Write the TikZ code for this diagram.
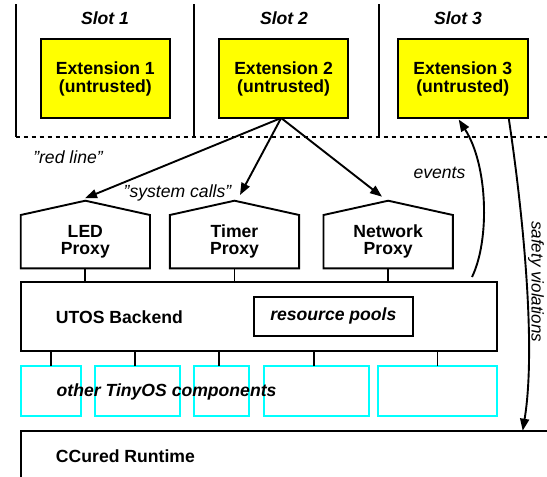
\documentclass[tikz,border=0pt]{standalone}
\usepackage{fontspec}
\setmainfont{Liberation Sans}
\usetikzlibrary{arrows.meta}
\definecolor{extyellow}{RGB}{255,255,0}
\definecolor{compcyan}{RGB}{0,255,255}
\begin{document}
\begin{tikzpicture}[x=1pt,y=-1pt,
  line width=1.9pt,
  every node/.style={inner sep=0pt, outer sep=0pt},
  bf/.style={font=\fontsize{17.6}{18}\selectfont\bfseries},
  bi/.style={font=\fontsize{17.6}{18}\selectfont\bfseries\itshape},
  it/.style={font=\fontsize{17.6}{18}\selectfont\itshape},
  extbox/.style={draw, fill=extyellow, minimum width=129.5pt, minimum height=79pt, align=center, bf},
  proxybody/.style={minimum width=129.3pt, minimum height=53.3pt, align=center, bf,
     font=\fontsize{17.6}{17}\selectfont\bfseries},
  compbox/.style={draw=compcyan, minimum height=49.7pt},
  arr/.style={-{Triangle[length=12pt,width=9pt]}},
  redline/.style={dash pattern=on 4pt off 4pt}
]
\clip (0,0) rectangle (547,477);

% slots
\coordinate (s1t) at (15.7,4);   \coordinate (s1b) at (15.7,137);
\coordinate (s2t) at (194.3,4);  \coordinate (s2b) at (194.3,137);
\coordinate (s3t) at (378.7,4);  \coordinate (s3b) at (378.7,137);
\coordinate (rlend) at (547,137);
\draw (s1t) -- (s1b);
\draw (s2t) -- (s2b);
\draw (s3t) -- (s3b);
\draw[redline] (s1b) -- (rlend);

\node[bi] (slot1) at (105,18) {Slot 1};
\node[bi] (slot2) at (284,18) {Slot 2};
\node[bi] (slot3) at (458,18) {Slot 3};

\node[extbox] (ext1) at (105.35,78.5) {Extension 1\\(untrusted)};
\node[extbox] (ext2) at (283.65,78.5) {Extension 2\\(untrusted)};
\node[extbox, minimum width=130pt] (ext3) at (462.7,78.5) {Extension 3\\(untrusted)};

\node[it] (redlbl) at (68,157.5) {"red line"};
\node[it] (syslbl) at (177.5,192.7) {"system calls"};
\node[it] (evlbl) at (439.5,172.5) {events};
\node[it, rotate=-90, anchor=base, font=\fontsize{17}{18}\selectfont\itshape] (safelbl) at (531.5,281.7) {safety violations};

% proxies
\node[proxybody] (led) at (85.35,241.65) {LED\\Proxy};
\node[proxybody] (timer) at (234.5,241.65) {Timer\\Proxy};
\node[proxybody] (net) at (388.15,241.65) {Network\\Proxy};
\foreach \p in {led,timer,net}{
  \coordinate (\p apex) at ([yshift=14.3pt]\p.north);
  \draw (\p.south west) -- (\p.north west) -- (\p apex) -- (\p.north east) -- (\p.south east) -- cycle;
}

% system call arrows
\coordinate (callsrc) at ([xshift=-2.5pt]ext2.south);
\coordinate (ledin) at (85,198.3);
\coordinate (timerin) at (240,195);
\coordinate (netin) at (382,196.7);
\draw[arr] (callsrc) -- (ledin);
\draw[arr] (callsrc) -- (timerin);
\draw[arr] (callsrc) -- (netin);

% backend
\node[draw, minimum width=476pt, minimum height=69.3pt] (backend) at (259,316.35) {};
\node[bf, anchor=base west] (utoslbl) at (56,323.6) {UTOS Backend};
\node[draw, bi, minimum width=158.7pt, minimum height=39pt] (pools) at (333.35,316.2) {resource pools};
\foreach \p in {led,timer,net}{
  \draw (\p.south) -- (\p.south |- backend.north);
}

% other components
\node[compbox, minimum width=60.3pt] (c1) at (50.85,390.85) {};
\node[compbox, minimum width=84.7pt] (c2) at (137.65,390.85) {};
\node[compbox, minimum width=54.7pt] (c3) at (221.65,390.85) {};
\node[compbox, minimum width=104.7pt] (c4) at (316.35,390.85) {};
\node[compbox, minimum width=119pt] (c5) at (437.5,390.85) {};
\draw (c1.north) -- (c1.north |- backend.south);
\draw ([xshift=-2.6pt]c2.north) -- ([xshift=-2.6pt]c2.north |- backend.south);
\draw ([xshift=-2.4pt]c3.north) -- ([xshift=-2.4pt]c3.north |- backend.south);
\draw ([xshift=-2.3pt]c4.north) -- ([xshift=-2.3pt]c4.north |- backend.south);
\draw (c5.north) -- (c5.north |- backend.south);
\node[bi, anchor=base west] (complbl) at (56.7,396.5) {other TinyOS components};

% CCured runtime
\node[draw, minimum width=560pt, minimum height=80pt, anchor=north west] (ccured) at (21,430.7) {};
\node[bf, anchor=base west] (cclbl) at (56,462) {CCured Runtime};

% events and safety violations
\coordinate (evsrc) at (472,277);
\coordinate (evdst) at ([xshift=-4pt,yshift=-1.5pt]ext3.south);
\draw[arr] (evsrc) .. controls (490,240) and (488,165) .. (evdst);
\coordinate (svsrc) at ([xshift=46pt]ext3.south);
\coordinate (svdst) at (ccured.north west -| 522.7,0);
\draw[arr] (svsrc) .. controls (524,220) and (536,350) .. (svdst);
\end{tikzpicture}
\end{document}
